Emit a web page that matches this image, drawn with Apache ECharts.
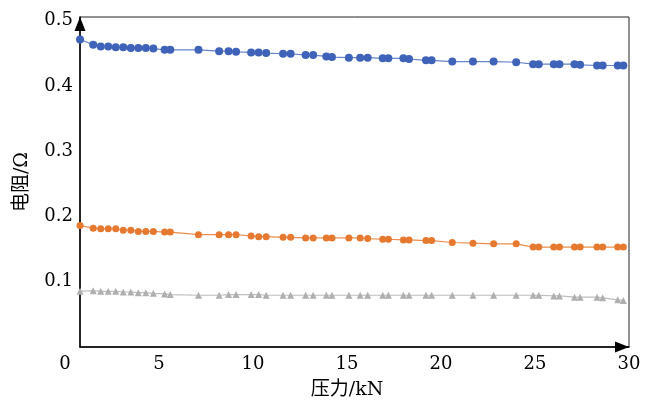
<!DOCTYPE html>
<html>
<head>
<meta charset="utf-8">
<script src="https://cdn.jsdelivr.net/npm/echarts@6/dist/echarts.min.js"></script>
<style>
  html, body { margin: 0; padding: 0; background: #fff; }
  #chart { width: 653px; height: 405px; }
</style>
</head>
<body>
<div id="chart"></div>
<script>
// Applied load (kN) at each measurement
const force = [0.8, 1.5, 1.9, 2.3, 2.7, 3.1, 3.5, 3.9, 4.3, 4.7, 5.3, 5.6, 7.1, 8.2, 8.7, 9.1,
  9.9, 10.3, 10.7, 11.6, 12.0, 12.8, 13.2, 13.9, 14.2, 15.1, 15.7, 16.1, 16.9, 17.2, 18.0, 18.3,
  19.2, 19.5, 20.6, 21.7, 22.8, 24.0, 24.9, 25.2, 26.0, 26.3, 27.1, 27.4, 28.3, 28.6, 29.4, 29.7];

// Contact resistance (Ω) for the three samples
const resistanceA = [0.471, 0.463, 0.460, 0.460, 0.459, 0.459, 0.458, 0.458, 0.458, 0.457, 0.455, 0.455,
  0.455, 0.453, 0.453, 0.452, 0.451, 0.451, 0.450, 0.449, 0.449, 0.447, 0.447, 0.445, 0.444, 0.443,
  0.443, 0.443, 0.442, 0.442, 0.442, 0.441, 0.439, 0.439, 0.437, 0.437, 0.437, 0.436, 0.433, 0.433,
  0.433, 0.433, 0.433, 0.432, 0.431, 0.431, 0.431, 0.431];
const resistanceB = [0.185, 0.181, 0.180, 0.180, 0.180, 0.178, 0.178, 0.176, 0.176, 0.176, 0.175, 0.175,
  0.171, 0.171, 0.171, 0.171, 0.169, 0.168, 0.168, 0.167, 0.167, 0.166, 0.166, 0.166, 0.166, 0.166,
  0.166, 0.165, 0.164, 0.164, 0.163, 0.163, 0.162, 0.162, 0.159, 0.158, 0.157, 0.157, 0.152, 0.152,
  0.152, 0.152, 0.152, 0.152, 0.152, 0.152, 0.152, 0.152];
const resistanceC = [0.084, 0.085, 0.084, 0.084, 0.084, 0.083, 0.083, 0.082, 0.082, 0.081, 0.080, 0.079,
  0.078, 0.078, 0.079, 0.079, 0.079, 0.079, 0.078, 0.078, 0.078, 0.078, 0.078, 0.078, 0.078, 0.078,
  0.078, 0.078, 0.078, 0.078, 0.078, 0.078, 0.078, 0.078, 0.078, 0.078, 0.078, 0.078, 0.078, 0.078,
  0.077, 0.077, 0.075, 0.075, 0.075, 0.074, 0.071, 0.070];

const xTicks = [0, 5, 10, 15, 20, 25, 30];
const yTicks = [0.1, 0.2, 0.3, 0.4, 0.5];

const FONT = "'DejaVu Serif', 'Noto Sans CJK SC', serif";

function pairs(ys) {
  return force.map((x, i) => [x, ys[i]]);
}

const chart = echarts.init(document.getElementById('chart'), null, { renderer: 'canvas' });

const yMin = 0, yMax = 0.5055;

const arrowLine = {
  show: true,
  lineStyle: { color: '#000', width: 1.5 },
  symbol: ['none', 'triangle'],
  symbolSize: [11, 14],
  symbolOffset: [0, -7]
};

chart.setOption({
  animation: false,
  backgroundColor: '#fff',
  grid: [
    // data + x tick labels (0 … 30)
    { left: 65, right: 24, top: 17, bottom: 58 },
    // framed plot box with arrowed axes starting at the first load step
    { left: 80, right: 24, top: 17, bottom: 58, show: true, borderColor: '#222', borderWidth: 1, backgroundColor: 'transparent' }
  ],
  xAxis: [
    {
      gridIndex: 0, type: 'value', min: xTicks[0], max: xTicks[xTicks.length - 1], interval: 5,
      axisLine: { show: false }, axisTick: { show: false }, splitLine: { show: false },
      axisLabel: { color: '#000', fontFamily: FONT, fontSize: 18, margin: 9 },
      name: '压力/kN', nameLocation: 'middle', nameGap: 35,
      nameTextStyle: { color: '#000', fontFamily: FONT, fontSize: 19 }
    },
    {
      gridIndex: 1, type: 'value', min: 0, max: 1,
      axisLine: arrowLine,
      axisTick: { show: false }, axisLabel: { show: false }, splitLine: { show: false }
    }
  ],
  yAxis: [
    {
      gridIndex: 0, type: 'value', min: yMin, max: yMax, show: false, splitLine: { show: false }
    },
    {
      gridIndex: 1, type: 'value', min: yMin, max: yMax, interval: 0.1,
      axisLine: arrowLine,
      axisTick: { show: false }, splitLine: { show: false },
      axisLabel: {
        color: '#000', fontFamily: FONT, fontSize: 18, margin: 7,
        showMinLabel: false, showMaxLabel: false,
        formatter: v => (yTicks.some(t => Math.abs(t - v) < 1e-6) ? v.toFixed(1) : '')
      },
      name: '电阻/Ω', nameLocation: 'middle', nameGap: 48,
      nameTextStyle: { color: '#000', fontFamily: FONT, fontSize: 19 }
    }
  ],
  series: [
    {
      type: 'line', xAxisIndex: 0, yAxisIndex: 0, data: pairs(resistanceA),
      symbol: 'circle', symbolSize: 8,
      itemStyle: { color: '#3F63B8' }, lineStyle: { color: '#6684C8', width: 1.2 }
    },
    {
      type: 'line', xAxisIndex: 0, yAxisIndex: 0, data: pairs(resistanceB),
      symbol: 'circle', symbolSize: 7,
      itemStyle: { color: '#E6782F' }, lineStyle: { color: '#EC8D4E', width: 1.2 }
    },
    {
      type: 'line', xAxisIndex: 0, yAxisIndex: 0, data: pairs(resistanceC),
      symbol: 'triangle', symbolSize: 7,
      itemStyle: { color: '#AFAFAF' }, lineStyle: { color: '#BDBDBD', width: 1.2 }
    }
  ]
});
</script>
</body>
</html>
